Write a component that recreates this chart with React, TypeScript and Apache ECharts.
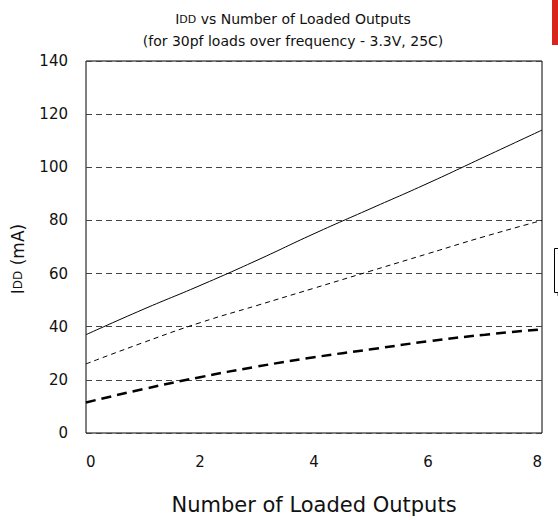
import React, { useEffect, useRef } from "react";
import * as echarts from "echarts";

const outputs = [0, 1, 2, 3, 4, 5, 6, 7, 8];
const solidSeries = [37, 46.5, 55.5, 65, 75, 84.5, 94, 104, 114];
const thinDashSeries = [26, 34, 41.5, 48, 54.5, 61, 67.5, 74, 80];
const thickDashSeries = [11.5, 16.5, 21, 25, 28.5, 31.5, 34.5, 37, 39];
const yTicks = [0, 20, 40, 60, 80, 100, 120, 140];
const xTicks = [0, 2, 4, 6, 8];

const FONT = "DejaVu Sans, sans-serif";

export default function App() {
  const ref = useRef<HTMLDivElement>(null);
  useEffect(() => {
    if (!ref.current) return;
    const chart = echarts.init(ref.current, null, { renderer: "svg" });
    const pair = (arr: number[]) => outputs.map((x, i) => [x, arr[i]]);
    chart.setOption({
      animation: false,
      backgroundColor: "#fff",
      title: {
        text: "I{s|DD} vs Number of Loaded Outputs\n(for 30pf loads over frequency - 3.3V, 25C)",
        left: 288,
        textAlign: "center",
        top: 3,
        textStyle: {
          fontFamily: FONT,
          fontSize: 14,
          fontWeight: "normal",
          color: "#111",
          lineHeight: 22,
          rich: {
            s: { fontSize: 11, fontFamily: FONT, color: "#111", lineHeight: 22 },
          },
        },
      },
      grid: {
        left: 86,
        top: 61,
        right: 16,
        bottom: 83,
        show: true,
        borderColor: "#000",
        borderWidth: 1,
        backgroundColor: "transparent",
      },
      xAxis: {
        type: "value",
        min: 0,
        max: 8,
        interval: 2,
        name: "Number of Loaded Outputs",
        nameLocation: "middle",
        nameGap: 61,
        nameMoveOverlap: false,
        nameTextStyle: {
          fontFamily: FONT,
          fontSize: 21,
          color: "#111",
        },
        axisLine: { show: false },
        axisTick: { show: false },
        splitLine: { show: false },
        axisLabel: {
          margin: 21,
          fontFamily: FONT,
          fontSize: 15,
          color: "#111",
          alignMinLabel: "left",
          alignMaxLabel: "right",
          formatter: (v: number) => (xTicks.includes(v) ? String(v) : ""),
        },
      },
      yAxis: {
        type: "value",
        min: 0,
        max: 140,
        interval: 20,
        name: "I{s|DD} (mA)",
        nameLocation: "middle",
        nameGap: 60,
        nameMoveOverlap: false,
        nameTextStyle: {
          fontFamily: FONT,
          fontSize: 17,
          color: "#111",
          padding: [0, 24, 0, 0],
          rich: { s: { fontSize: 12, fontFamily: FONT, color: "#111" } },
        },
        axisLine: { show: false },
        axisTick: { show: false },
        axisLabel: {
          margin: 18,
          fontFamily: FONT,
          fontSize: 15,
          color: "#111",
          formatter: (v: number) => (yTicks.includes(v) ? String(v) : ""),
        },
        splitLine: {
          show: true,
          lineStyle: { color: "#444", width: 1, type: [6, 4] },
        },
      },
      series: [
        {
          type: "line",
          data: pair(solidSeries),
          showSymbol: false,
          smooth: true,
          lineStyle: { color: "#000", width: 1, type: "solid" },
        },
        {
          type: "line",
          data: pair(thinDashSeries),
          showSymbol: false,
          smooth: true,
          lineStyle: { color: "#000", width: 1, type: [5, 4] },
        },
        {
          type: "line",
          data: pair(thickDashSeries),
          showSymbol: false,
          smooth: true,
          lineStyle: { color: "#000", width: 2.5, type: [10, 6] },
        },
      ],
      graphic: [
        {
          type: "rect",
          shape: { x: 552, y: 0, width: 8, height: 45 },
          style: { fill: "#d8261c" },
        },
        {
          type: "rect",
          shape: { x: 557, y: 252, width: 10, height: 44 },
          style: { fill: "#999" },
        },
        {
          type: "rect",
          shape: { x: 554.5, y: 248.5, width: 10, height: 44 },
          style: { fill: "#fff", stroke: "#000", lineWidth: 1 },
        },
      ],
    });
    return () => chart.dispose();
  }, []);
  return (
    <div
      ref={ref}
      style={{ position: "fixed", left: 0, top: 0, width: 558, height: 520 }}
    />
  );
}
